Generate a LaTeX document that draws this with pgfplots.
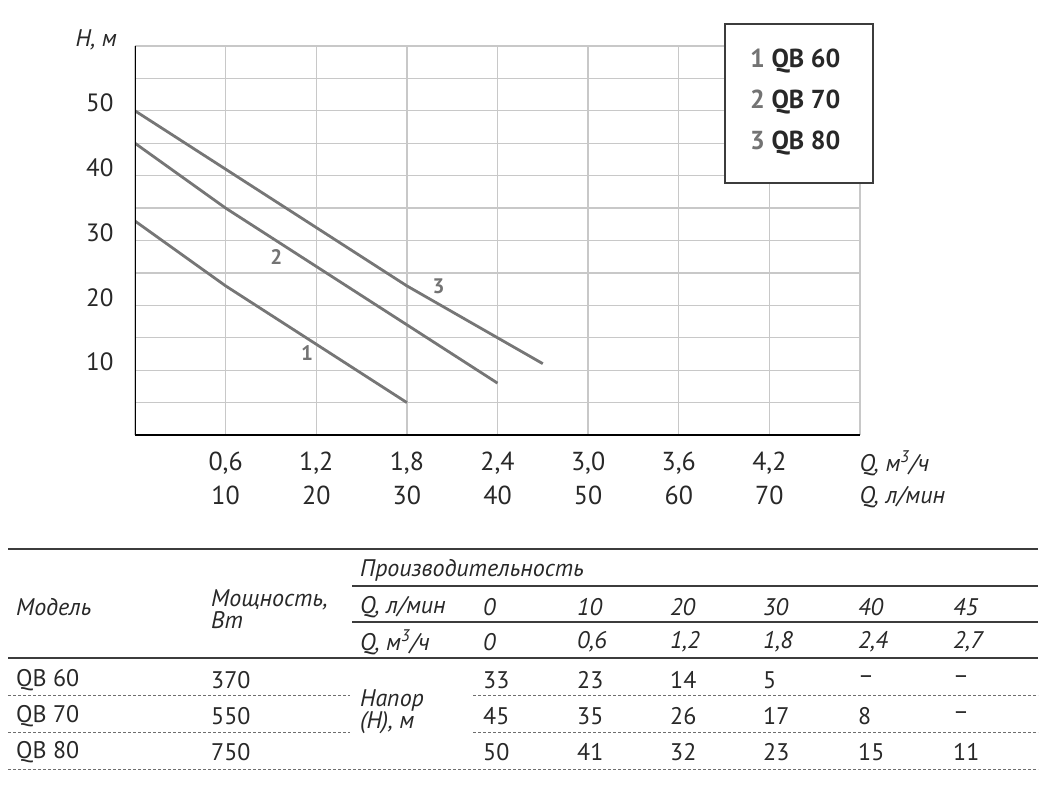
\documentclass[border=0pt]{standalone}
\usepackage{fontspec}
\setmainfont{PT Sans}
\usepackage{pgfplots}
\pgfplotsset{compat=1.18}
\definecolor{gridc}{RGB}{200,200,200}
\definecolor{curvec}{RGB}{118,118,118}
\definecolor{txt}{RGB}{40,40,40}
\definecolor{lblc}{RGB}{115,115,115}
\definecolor{rulec}{RGB}{60,60,60}
\definecolor{dotc}{RGB}{110,110,110}

\begin{document}
\begin{tikzpicture}
\path[use as bounding box] (0pt,0pt) rectangle (1044pt,-786pt);
\begin{axis}[at={(135pt,-435pt)}, anchor=south west, scale only axis,
  width=725pt, height=389pt,
  xmin=0, xmax=80, ymin=0, ymax=60,
  xtick={0,10,...,80}, ytick={0,5,...,60},
  xticklabels={{},{0,6\\10},{1,2\\20},{1,8\\30},{2,4\\40},{3,0\\50},{3,6\\60},{4,2\\70},{}},
  yticklabels={{},{},10,{},20,{},30,{},40,{},50,{},{}},
  grid=major, major grid style={gridc, line width=1.3pt},
  major tick length=0pt,
  axis line style={draw=none},
  xticklabel style={font=\fontsize{26}{34}\selectfont, align=center, text=txt, yshift=-13pt},
  yticklabel style={font=\fontsize{25}{28}\selectfont, text=txt, xshift=-18pt, yshift=8pt},
  clip=true,
]
\addplot[curvec, line width=2.8pt] coordinates {(0,33) (10,23) (20,14) (30,5)};
\addplot[curvec, line width=2.8pt] coordinates {(0,45) (10,35) (20,26) (30,17) (40,8)};
\addplot[curvec, line width=2.8pt] coordinates {(0,50) (10,41) (20,32) (30,23) (40,15) (45,11)};
\node[text=lblc, font=\fontsize{21}{24}\selectfont\bfseries] at (axis cs:19,12.7) {1};
\node[text=lblc, font=\fontsize{21}{24}\selectfont\bfseries] at (axis cs:15.6,27.5) {2};
\node[text=lblc, font=\fontsize{21}{24}\selectfont\bfseries] at (axis cs:33.5,23) {3};
\draw[black, line width=2.6pt] (rel axis cs:0,1) -- (rel axis cs:0,0) -- (rel axis cs:1,0);
\end{axis}
% axis titles
\node[anchor=west, text=txt, font=\fontsize{24}{26}\selectfont\itshape] at (72pt,-40pt) {H, м};
\node[anchor=west, text=txt, font=\fontsize{24}{26}\selectfont\itshape] at (856pt,-463pt) {Q, м\textsuperscript{3}/ч};
\node[anchor=west, text=txt, font=\fontsize{24}{26}\selectfont\itshape] at (856pt,-497pt) {Q, л/мин};
% legend box
\node[draw=rulec, fill=white, line width=1.5pt, minimum width=148pt, minimum height=159pt, inner sep=0pt] at (799pt,-103.5pt) {};
\begin{scope}[every node/.style={anchor=west, font=\fontsize{26}{28}\selectfont\bfseries, text=txt, inner sep=0pt}]
\node at (750pt,-61pt) {\textcolor{lblc}{1} QB 60};
\node at (750pt,-102pt) {\textcolor{lblc}{2} QB 70};
\node at (750pt,-143pt) {\textcolor{lblc}{3} QB 80};
\end{scope}
% table rules
\draw[rulec, line width=1.2pt] (8pt,-549pt) -- (1038pt,-549pt);
\draw[rulec, line width=1.2pt] (352pt,-586pt) -- (1038pt,-586pt);
\draw[rulec, line width=1.2pt] (352pt,-622pt) -- (1038pt,-622pt);
\draw[rulec, line width=2pt] (8pt,-658pt) -- (1038pt,-658pt);
\draw[dotc, line width=0.8pt, dash pattern=on 3pt off 2pt] (8pt,-695pt) -- (350pt,-695pt);
\draw[dotc, line width=0.8pt, dash pattern=on 3pt off 2pt] (473pt,-695pt) -- (1038pt,-695pt);
\draw[dotc, line width=0.8pt, dash pattern=on 3pt off 2pt] (8pt,-732pt) -- (350pt,-732pt);
\draw[dotc, line width=0.8pt, dash pattern=on 3pt off 2pt] (473pt,-732pt) -- (1038pt,-732pt);
\draw[dotc, line width=0.8pt, dash pattern=on 3pt off 2pt] (8pt,-769pt) -- (1038pt,-769pt);
% table text
\begin{scope}[every node/.style={anchor=west, font=\fontsize{24}{26}\selectfont, text=txt, inner sep=0pt}]
\node[font=\fontsize{24}{26}\selectfont\itshape] at (360pt,-570pt) {Производительность};
\node[font=\fontsize{24}{26}\selectfont\itshape] at (16pt,-607pt) {Модель};
\node[font=\fontsize{24}{22}\selectfont\itshape, align=left] at (211pt,-609pt) {Мощность,\\Вт};
\node[font=\fontsize{24}{26}\selectfont\itshape] at (360pt,-607pt) {Q, л/мин};
\node[font=\fontsize{24}{26}\selectfont\itshape] at (360pt,-642pt) {Q, м\textsuperscript{3}/ч};
\node[font=\fontsize{24}{22}\selectfont\itshape, align=left] at (360pt,-712pt) {Напор\\(Н), м};
% header values
\foreach \xx/\v in {483/0,577/10,670/20,763/30,858/40,953/45}
  \node[font=\fontsize{24}{26}\selectfont\itshape] at (\xx pt,-607pt) {\v};
\foreach \xx/\v in {483/0,577/{0,6},670/{1,2},763/{1,8},858/{2,4},953/{2,7}}
  \node[font=\fontsize{24}{26}\selectfont\itshape] at (\xx pt,-642pt) {\v};
% rows
\node at (16pt,-680pt) {QB 60};
\node at (211pt,-680pt) {370};
\node at (16pt,-716pt) {QB 70};
\node at (211pt,-716pt) {550};
\node at (16pt,-752pt) {QB 80};
\node at (211pt,-752pt) {750};
\foreach \xx/\v in {483/33,577/23,670/14,763/5,858/–,953/–}
  \node at (\xx pt,-680pt) {\v};
\foreach \xx/\v in {483/45,577/35,670/26,763/17,858/8,953/–}
  \node at (\xx pt,-716pt) {\v};
\foreach \xx/\v in {483/50,577/41,670/32,763/23,858/15,953/11}
  \node at (\xx pt,-752pt) {\v};
\end{scope}
\end{tikzpicture}
\end{document}
